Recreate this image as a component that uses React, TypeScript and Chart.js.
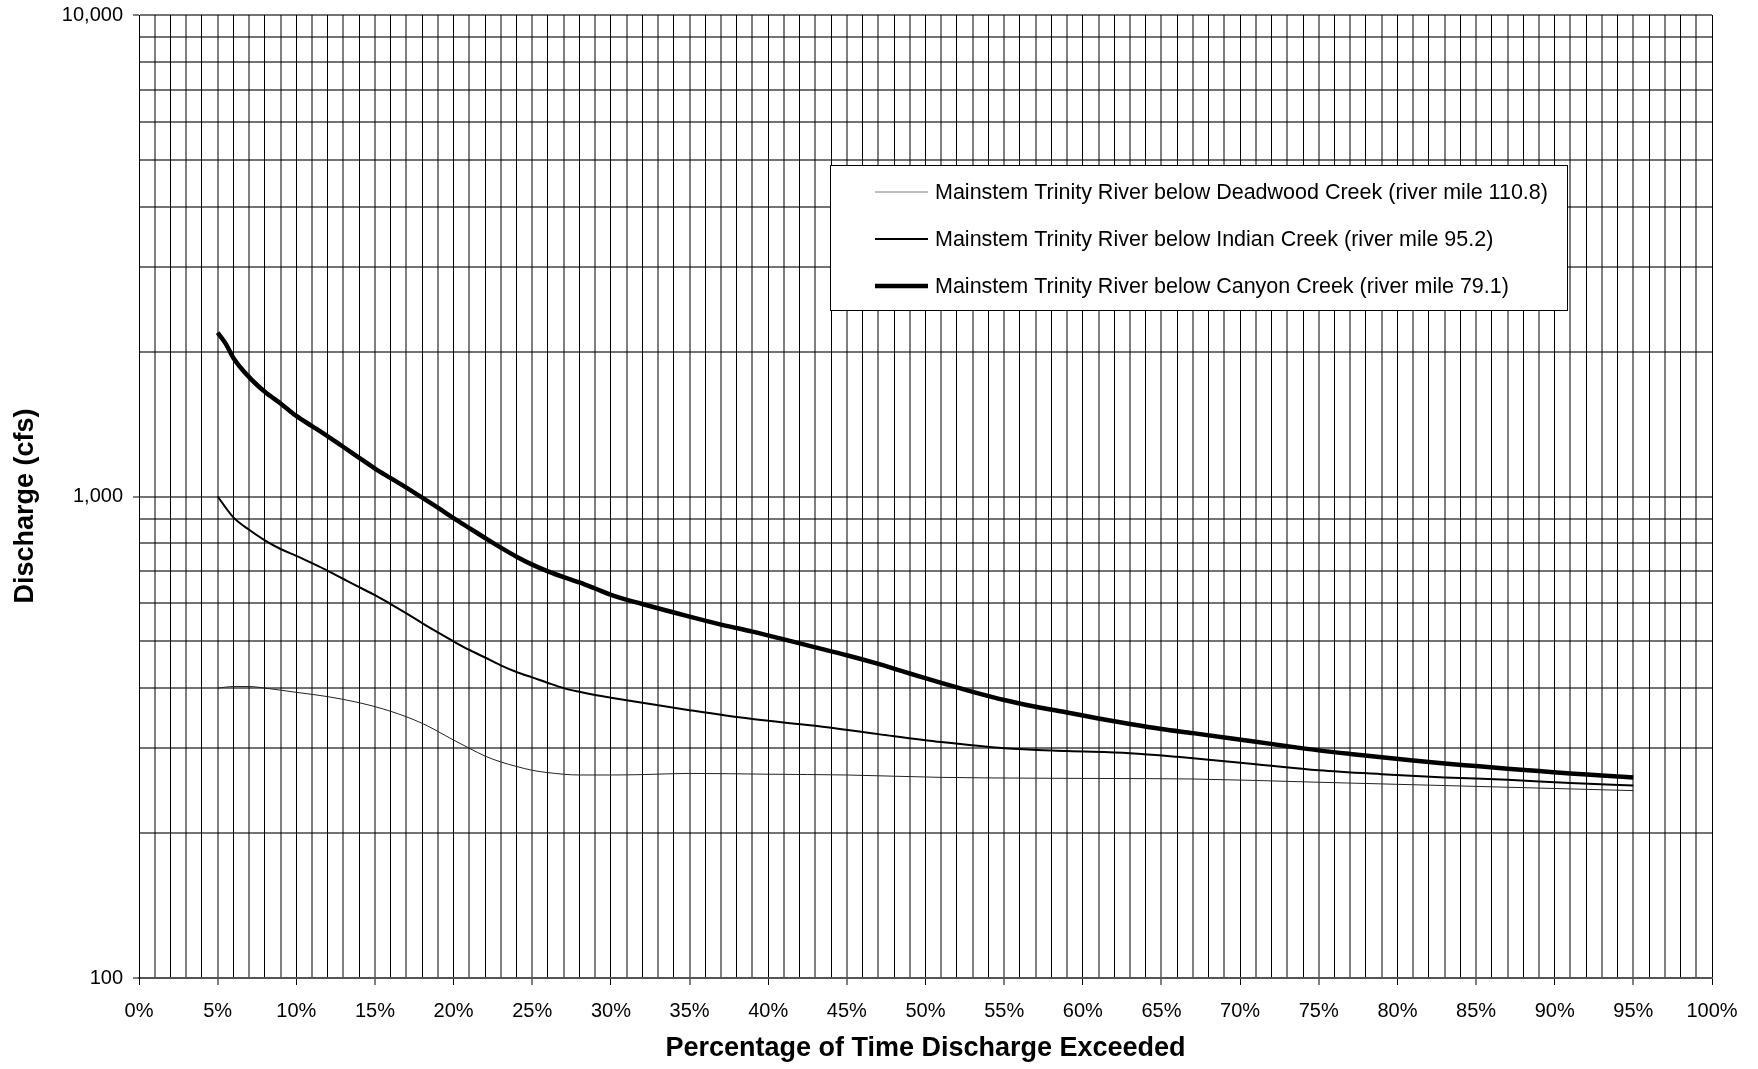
import React, { useEffect, useRef } from 'react';
import { Chart, registerables } from 'chart.js';

Chart.register(...registerables);

// ---- Data (percentage of time exceeded, discharge in cfs) ----
const deadwoodPct = [5, 6, 7, 8, 10, 12, 14, 16, 18, 20, 21, 22, 23, 24, 25, 26, 28, 30, 32, 35, 40, 45, 51, 57, 63, 67, 75, 83, 91, 95];
const deadwoodCfs = [400, 403, 403, 400, 392, 384, 373, 358, 338, 312, 300, 289, 281, 275, 270, 267, 264, 264, 264.5, 266, 265, 264, 261, 260, 259.5, 259, 255, 251, 247, 245];

const indianPct = [5, 6, 7, 8, 9, 10, 11, 12, 13, 14, 15, 16, 17, 18, 19, 20, 21, 22, 23, 24, 25, 26, 27, 28, 29, 30, 32, 35, 39, 43, 47, 51, 55, 59, 63, 66, 71, 75, 79, 83, 87, 91, 95];
const indianCfs = [1000, 905, 853, 811, 778, 753, 727, 701, 674, 648, 624, 598, 572, 546, 522, 500, 480, 463, 446, 432, 421, 410, 400, 393, 387, 382, 373, 360, 345, 334, 321, 309, 300, 296, 293, 288, 278, 270, 265, 261, 258, 254, 251];

const canyonPct = [5, 5.5, 6, 7, 8, 9, 10, 11, 12, 13, 14, 15, 16, 17, 18, 19, 20, 21, 22, 23, 24, 25, 26, 27, 28, 29, 30, 32, 35, 37, 39, 41, 43, 45, 47, 49, 51, 53, 55, 57, 59, 61, 63, 65, 67, 69, 71, 73, 75, 77, 79, 81, 83, 85, 87, 89, 91, 93, 95];
const canyonCfs = [2190, 2080, 1940, 1770, 1650, 1560, 1470, 1400, 1333, 1267, 1203, 1143, 1092, 1043, 995, 948, 902, 860, 820, 783, 750, 722, 699, 680, 663, 644, 625, 598, 563, 542, 524, 505, 486, 468, 449, 429, 410, 393, 378, 366, 356, 346, 337, 329, 322.5, 316, 309.5, 303, 297, 292, 287.5, 283, 279, 275.5, 272, 269, 266, 263.5, 261];

const seriesLabels = [
  'Mainstem Trinity River below Deadwood Creek (river mile 110.8)',
  'Mainstem Trinity River below Indian Creek (river mile 95.2)',
  'Mainstem Trinity River below Canyon Creek (river mile 79.1)',
];

const yTickValues = [100, 200, 300, 400, 500, 600, 700, 800, 900, 1000, 2000, 3000, 4000, 5000, 6000, 7000, 8000, 9000, 10000];
const yTickLabels: Record<number, string> = { 100: '100', 1000: '1,000', 10000: '10,000' };
const xLabelEvery = 5;

const xTitle = 'Percentage of Time Discharge Exceeded';
const yTitle = 'Discharge (cfs)';

const FONT = '"Liberation Sans", Arial, Helvetica, sans-serif';

export default function App() {
  const ref = useRef<HTMLCanvasElement>(null);

  useEffect(() => {
    document.body.style.margin = '0';
    const canvas = ref.current;
    if (!canvas) return;

    const toPts = (xs: number[], ys: number[]) => xs.map((x, i) => ({ x, y: ys[i] }));

    const overlayPlugin = {
      id: 'overlay',
      afterDatasetsDraw(chart: any) {
        const { ctx, chartArea: a } = chart;
        ctx.save();
        // legend box
        const bx = Math.round(a.left + 691) + 0.5;
        const by = Math.round(a.top + 150) + 0.5;
        const bw = 737;
        const bh = 145;
        ctx.fillStyle = '#fff';
        ctx.fillRect(bx, by, bw, bh);
        ctx.strokeStyle = '#000';
        ctx.lineWidth = 1;
        ctx.strokeRect(bx, by, bw, bh);
        const rows = [177, 224, 271];
        chart.data.datasets.forEach((ds: any, i: number) => {
          const y = a.top + rows[i];
          ctx.beginPath();
          ctx.strokeStyle = ds.legendColor || ds.borderColor;
          ctx.lineWidth = ds.borderWidth;
          ctx.moveTo(a.left + 736, y);
          ctx.lineTo(a.left + 789, y);
          ctx.stroke();
          ctx.fillStyle = '#000';
          ctx.font = `21.5px ${FONT}`;
          ctx.textAlign = 'left';
          ctx.textBaseline = 'middle';
          ctx.fillText(ds.label, a.left + 796, y + 1);
        });
        ctx.restore();
      },
      afterDraw(chart: any) {
        const { ctx, chartArea: a } = chart;
        ctx.save();
        ctx.fillStyle = '#000';
        ctx.font = `bold 27px ${FONT}`;
        ctx.textAlign = 'center';
        ctx.textBaseline = 'middle';
        ctx.fillText(xTitle, (a.left + a.right) / 2, 1049);
        ctx.translate(26, 506);
        ctx.rotate(-Math.PI / 2);
        ctx.fillText(yTitle, 0, 0);
        ctx.restore();
      },
    };

    const chart = new Chart(canvas, {
      type: 'line',
      data: {
        datasets: [
          {
            label: seriesLabels[0],
            data: toPts(deadwoodPct, deadwoodCfs),
            borderColor: '#222',
            legendColor: '#808080',
            borderWidth: 1,
            cubicInterpolationMode: 'monotone',
          } as any,
          {
            label: seriesLabels[1],
            data: toPts(indianPct, indianCfs),
            borderColor: '#000',
            borderWidth: 2,
            cubicInterpolationMode: 'monotone',
          },
          {
            label: seriesLabels[2],
            data: toPts(canyonPct, canyonCfs),
            borderColor: '#000',
            borderWidth: 4.5,
            cubicInterpolationMode: 'monotone',
          },
        ],
      },
      options: {
        animation: false,
        responsive: false,
        devicePixelRatio: 1,
        layout: { padding: { left: 0, right: 46, top: 15, bottom: 0 } },
        elements: { point: { radius: 0 } },
        plugins: {
          legend: { display: false },
          tooltip: { enabled: false },
        },
        scales: {
          x: {
            type: 'linear',
            min: 0,
            max: 100,
            afterFit: (s: any) => {
              s.height = 91;
              s.paddingLeft = 0;
              s.paddingRight = 0;
            },
            ticks: {
              stepSize: 1,
              autoSkip: false,
              maxRotation: 0,
              minRotation: 0,
              padding: 14,
              color: '#000',
              font: { family: FONT, size: 20 },
              callback: (v: any) => (Number(v) % xLabelEvery === 0 ? `${v}%` : ''),
            },
            grid: {
              color: (c: any) => (c.tick && Math.round(c.tick.value) % 2 === 1 ? 'rgba(0,0,0,0.5)' : '#000'),
              lineWidth: (c: any) => (c.tick && Math.round(c.tick.value) % 2 === 1 ? 2 : 1),
              tickLength: 7,
              tickColor: (c: any) => (c.tick && Math.round(c.tick.value) % xLabelEvery === 0 ? '#000' : 'rgba(0,0,0,0)'),
              tickWidth: 1,
            },
            border: { color: '#555', width: 2 },
          },
          y: {
            type: 'logarithmic',
            min: 100,
            max: 10000,
            afterFit: (s: any) => {
              s.width = 139;
              s.paddingTop = 0;
              s.paddingBottom = 0;
            },
            afterBuildTicks: (s: any) => {
              s.ticks = yTickValues.map((v) => ({ value: v }));
            },
            ticks: {
              autoSkip: false,
              padding: 10,
              color: '#000',
              font: { family: FONT, size: 20 },
              callback: (v: any) => yTickLabels[Number(v)] ?? '',
            },
            grid: {
              color: 'rgba(0,0,0,0.55)',
              lineWidth: 2,
              tickLength: 6,
              tickColor: (c: any) => (c.tick && yTickLabels[c.tick.value] ? '#000' : 'rgba(0,0,0,0)'),
              tickWidth: 1,
            },
            border: { color: '#000', width: 1 },
          },
        },
      } as any,
      plugins: [overlayPlugin],
    });

    return () => chart.destroy();
  }, []);

  return (
    <div style={{ width: 1758, height: 1069 }}>
      <canvas ref={ref} width={1758} height={1069} style={{ display: 'block', width: 1758, height: 1069 }} />
    </div>
  );
}
